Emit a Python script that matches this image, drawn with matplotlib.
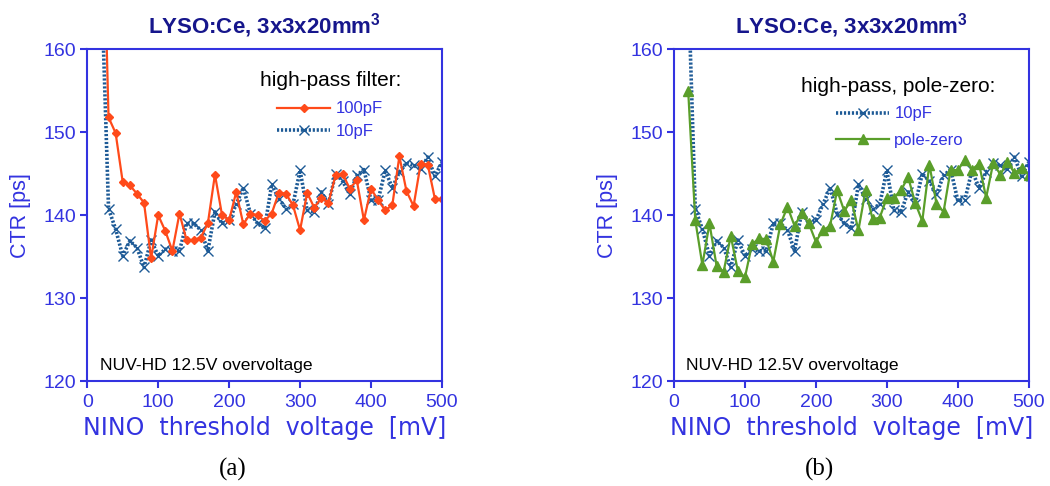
import matplotlib
matplotlib.use("Agg")
import matplotlib.pyplot as plt

# NINO threshold scan, 20 mV .. 500 mV in 10 mV steps
threshold_mv = list(range(20, 510, 10))

ctr_100pf = [185.0, 151.8, 149.9, 144.0, 143.6, 142.6, 141.5, 134.8, 140.0, 138.1,
             135.7, 140.2, 137.0, 137.0, 137.3, 139.0, 144.9, 140.0, 139.4, 142.8,
             138.9, 140.2, 140.0, 139.3, 140.2, 142.7, 142.6, 141.2, 138.2, 142.7,
             140.9, 142.1, 141.5, 144.8, 145.0, 143.2, 144.2, 139.4, 143.2, 141.8,
             140.6, 141.2, 147.1, 142.9, 141.1, 146.2, 146.1, 142.0, 141.9]

ctr_10pf = [168.0, 140.8, 138.3, 135.1, 136.9, 136.1, 133.7, 137.0, 135.1, 135.9,
            135.7, 135.7, 139.0, 139.0, 138.2, 135.7, 140.4, 139.0, 139.4, 141.3,
            143.3, 140.2, 139.0, 138.4, 143.7, 142.0, 140.8, 141.3, 145.4, 140.6,
            140.4, 142.8, 141.3, 145.0, 144.1, 142.5, 144.8, 145.5, 141.8, 141.8,
            145.4, 143.3, 145.2, 146.3, 146.0, 145.6, 147.0, 144.7, 146.4]

ctr_polezero = [155.0, 139.4, 134.0, 139.0, 133.9, 133.2, 137.5, 133.3, 132.5, 136.5,
                137.2, 137.1, 134.4, 138.9, 141.0, 138.7, 140.3, 139.0, 136.8, 138.2,
                138.7, 143.0, 140.5, 141.8, 138.2, 143.0, 139.5, 139.7, 142.1, 142.1,
                143.0, 144.6, 141.5, 139.3, 146.1, 141.4, 140.4, 145.5, 145.4, 146.7,
                145.5, 146.2, 142.1, 146.3, 144.9, 146.4, 145.1, 145.7, 144.9]

x_ticks = [0, 100, 200, 300, 400, 500]
y_ticks = [120, 130, 140, 150, 160]

AXIS_BLUE = "#3333e0"
TITLE_NAVY = "#16168c"
ORANGE = "#ff4a1a"
DARK_BLUE = "#1d5a96"
GREEN = "#5a9e2a"
SANS = "Liberation Sans"

plt.rcParams["mathtext.fontset"] = "custom"
plt.rcParams["mathtext.rm"] = SANS
plt.rcParams["mathtext.bf"] = SANS + ":bold"

fig = plt.figure(figsize=(10.5, 4.86), dpi=100)

ax_a = fig.add_axes([0.0831, 0.216, 0.3378, 0.6825])
ax_b = fig.add_axes([0.6419, 0.216, 0.3378, 0.6825])


def style_axes(ax):
    ax.set_xlim(0, 500)
    ax.set_ylim(120, 160)
    ax.set_xticks(x_ticks)
    ax.set_yticks(y_ticks)
    for sp in ax.spines.values():
        sp.set_color(AXIS_BLUE)
        sp.set_linewidth(1.5)
    ax.tick_params(direction="out", length=5, width=1.5, color=AXIS_BLUE,
                   labelcolor=AXIS_BLUE, labelsize=14)
    ax.tick_params(axis="x", pad=4)
    ax.tick_params(axis="y", pad=3)
    for lbl in ax.get_xticklabels() + ax.get_yticklabels():
        lbl.set_family(SANS)
    ax.set_xlabel("NINO  threshold  voltage  [mV]", color=AXIS_BLUE,
                  fontsize=17, family="DejaVu Sans", labelpad=4)
    ax.set_ylabel("CTR [ps]", color=AXIS_BLUE, fontsize=15.5, family=SANS,
                  labelpad=9)
    ax.set_title(r"LYSO:Ce, 3x3x20mm$^{\mathbf{3}}$", color=TITLE_NAVY,
                 fontsize=16, fontweight="bold", family=SANS, pad=12)
    ax.text(0.035, 0.024, "NUV-HD 12.5V overvoltage", transform=ax.transAxes,
            fontsize=12.6, family=SANS, color="black", ha="left", va="bottom")


def draw_10pf(ax):
    return ax.plot(threshold_mv, ctr_10pf, color=DARK_BLUE, linewidth=2.6,
                   linestyle=(0, (0.6, 0.5)), marker="x", markersize=7,
                   markeredgewidth=1.0, label="10pF")[0]


def add_legend(ax, handles, title, title_xy, entry_xy, spacing):
    ax.text(title_xy[0], title_xy[1], title, transform=ax.transAxes,
            ha="center", va="baseline", fontsize=15, family=SANS,
            color="black")
    leg = ax.legend(handles=handles, loc="upper left", bbox_to_anchor=entry_xy,
                    frameon=False, handlelength=3.2, numpoints=1,
                    labelspacing=spacing, handletextpad=0.3, borderpad=0,
                    borderaxespad=0, prop={"family": SANS, "size": 12})
    for t in leg.get_texts():
        t.set_color(AXIS_BLUE)
    return leg


# (a) high-pass filter comparison
h10a = draw_10pf(ax_a)
h100 = ax_a.plot(threshold_mv, ctr_100pf, color=ORANGE, linewidth=1.6,
                 marker="D", markersize=4.5, label="100pF")[0]
style_axes(ax_a)
add_legend(ax_a, [h100, h10a], "high-pass filter:",
           (0.687, 0.888), (0.535, 0.843), 0.43)

# (b) pole-zero cancellation
h10b = draw_10pf(ax_b)
hpz = ax_b.plot(threshold_mv, ctr_polezero, color=GREEN, linewidth=1.6,
                marker="^", markersize=6.5, label="pole-zero")[0]
style_axes(ax_b)
add_legend(ax_b, [h10b, hpz], "high-pass, pole-zero:",
           (0.632, 0.872), (0.457, 0.828), 0.70)

fig.text(233 / 1050, 1 - 469 / 486, "(a)", ha="center", va="center",
         fontsize=18, family="Liberation Serif", color="black")
fig.text(820 / 1050, 1 - 469 / 486, "(b)", ha="center", va="center",
         fontsize=18, family="Liberation Serif", color="black")

fig.savefig("out.png", dpi=100)
